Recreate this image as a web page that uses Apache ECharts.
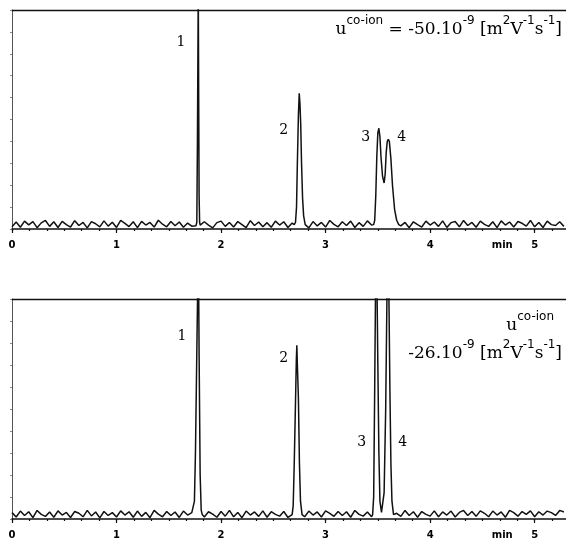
<!DOCTYPE html>
<html>
<head>
<meta charset="utf-8">
<script src="https://cdn.jsdelivr.net/npm/echarts@6/dist/echarts.min.js"></script>
<style>
  html, body { margin: 0; padding: 0; background: #fff; }
  #chart { width: 566px; height: 541px; }
</style>
</head>
<body>
<div id="chart"></div>
<script>
// time axis (min)
const xMax = 5.3;
const tickValues = [0, 1, 2, 3, 4, 4.69, 5];
const tickLabels = ['0', '1', '2', '3', '4', 'min', '5'];

// baseline noise, one value every 0.04 min from 0 to 5.28
const noiseStep = 0.04;
const noiseTop = [
  1.0, 3.2, 0.8, 3.6, 1.9, 3.4, 0.6, 2.8, 3.9, 1.2, 3.3, 0.7, 3.5, 2.0, 0.9, 3.8, 1.6, 3.0, 0.5, 3.4,
  2.4, 1.0, 3.7, 1.3, 3.1, 0.7, 3.9, 2.6, 1.1, 3.3, 0.6, 3.5, 1.8, 3.0, 0.9, 4.0, 2.2, 1.0, 3.4, 1.5,
  3.2, 0.8, 2.7, 1.3, 3.7, 0.7, 3.3, 1.8, 0.5, 2.9, 3.6, 1.2, 3.0, 0.9, 3.4, 2.0, 0.6, 3.8, 1.6, 3.2,
  1.0, 2.9, 0.8, 3.6, 1.8, 3.3, 0.7, 2.7, 3.7, 1.2, 3.2, 0.5, 3.4, 1.4, 3.0, 0.9, 3.9, 2.1, 1.0, 3.3,
  1.6, 3.6, 0.7, 2.9, 1.2, 3.7, 1.8, 3.2, 0.8, 3.4, 2.5, 1.0, 3.9, 1.4, 3.0, 0.6, 3.3, 2.0, 0.9, 3.6,
  1.8, 3.2, 1.2, 3.7, 0.7, 2.9, 3.4, 1.0, 3.9, 1.6, 3.0, 0.8, 3.6, 2.1, 1.2, 3.3, 0.6, 3.7, 1.8, 3.2,
  0.9, 3.4, 2.6, 1.3, 3.9, 1.0, 3.0, 0.7, 3.6, 2.0, 1.6, 3.3, 1.2
];
const noiseBottom = [
  2.9, 0.9, 3.6, 1.6, 3.3, 0.6, 3.9, 2.1, 1.2, 3.2, 0.8, 3.7, 1.8, 3.0, 0.7, 3.4, 2.6, 1.0, 3.9, 1.4,
  3.2, 0.5, 3.4, 1.6, 2.9, 0.9, 3.7, 1.8, 3.3, 0.8, 3.6, 1.2, 3.0, 0.6, 3.9, 2.2, 1.0, 3.4, 1.6, 3.2,
  0.7, 3.6, 1.8, 2.9, 1.2, 3.7, 0.9, 3.3, 2.2, 0.8, 3.4, 1.3, 3.9, 1.0, 3.0, 0.6, 3.6, 1.8, 3.2, 1.2,
  3.7, 0.8, 3.3, 2.1, 1.3, 3.4, 0.7, 3.9, 1.6, 3.0, 1.0, 3.6, 1.8, 3.2, 0.9, 3.7, 2.6, 1.2, 3.4, 1.6,
  3.3, 0.8, 3.9, 2.1, 1.3, 3.2, 1.0, 3.7, 1.8, 2.9, 0.9, 3.6, 2.6, 1.2, 3.9, 1.6, 3.3, 0.8, 3.4, 2.1,
  1.3, 3.7, 1.0, 3.2, 1.8, 3.6, 0.9, 3.0, 3.9, 1.6, 3.4, 1.2, 3.7, 2.6, 1.0, 3.6, 1.8, 3.2, 0.8, 3.9,
  2.9, 1.3, 3.4, 2.1, 3.7, 1.0, 3.3, 1.8, 3.6, 2.9, 1.6, 3.9, 3.2
];

// peaks, [min, signal] (signal: 100 = top of the frame)
const peaksTop = [
  [[1.76, 1.5], [1.768, 3], [1.774, 40], [1.778, 75], [1.782, 110], [1.786, 60], [1.79, 15], [1.795, 3], [1.80, 1.8]],
  [[2.70, 2], [2.712, 3], [2.722, 10], [2.73, 30], [2.74, 52], [2.748, 62], [2.755, 57], [2.762, 48],
   [2.77, 30], [2.78, 14], [2.79, 6], [2.805, 2]],
  [[3.46, 2], [3.47, 4], [3.48, 15], [3.49, 33], [3.50, 44], [3.51, 46], [3.52, 42], [3.53, 33],
   [3.545, 24], [3.56, 21], [3.57, 25], [3.58, 35], [3.59, 40], [3.60, 41], [3.61, 40], [3.625, 32],
   [3.64, 20], [3.66, 9], [3.68, 4], [3.70, 2]]
];
const peaksBottom = [
  [[1.735, 2], [1.745, 8], [1.755, 30], [1.765, 65], [1.775, 100], [1.78, 115], [1.785, 110],
   [1.79, 75], [1.80, 20], [1.81, 4], [1.82, 2]],
  [[2.68, 2], [2.69, 6], [2.70, 25], [2.71, 48], [2.72, 72], [2.725, 79], [2.73, 70], [2.74, 55],
   [2.75, 25], [2.76, 8], [2.775, 2]],
  [[3.45, 2], [3.46, 10], [3.47, 60], [3.478, 105], [3.485, 115], [3.492, 105], [3.50, 70], [3.51, 30],
   [3.52, 8], [3.535, 3], [3.55, 3], [3.56, 12], [3.575, 50], [3.588, 105], [3.597, 115], [3.605, 105],
   [3.615, 60], [3.625, 25], [3.635, 8], [3.65, 2]]
];

// peak numbers, [min, signal]
const labelsTop = [['1', 1.616, 85], ['2', 2.60, 45], ['3', 3.384, 42], ['4', 3.728, 42]];
const labelsBottom = [['1', 1.625, 83], ['2', 2.60, 73], ['3', 3.346, 35], ['4', 3.738, 35]];

// merge baseline and peaks into one trace
function buildTrace(noise, peaks) {
  const pts = [];
  noise.forEach((v, i) => {
    const t = +(i * noiseStep).toFixed(3);
    const inPeak = peaks.some(p => t >= p[0][0] && t <= p[p.length - 1][0]);
    if (!inPeak) pts.push([t, v]);
  });
  peaks.forEach(p => p.forEach(d => pts.push(d)));
  pts.sort((a, b) => a[0] - b[0]);
  return pts;
}

const minorTicks = [];
for (let k = 0; k / 6 <= xMax; k++) minorTicks.push(k / 6);

const black = '#111';

function axesFor(gridIndex) {
  return [
    {
      type: 'value', gridIndex, position: 'bottom', min: 0, max: xMax,
      axisLine: { show: true, lineStyle: { color: black, width: 1.6 } },
      axisTick: { show: true, length: 4, customValues: tickValues.filter((v, i) => tickLabels[i] !== 'min'),
        lineStyle: { color: black, width: 1.2 } },
      axisLabel: {
        customValues: tickValues,
        formatter: v => tickLabels[tickValues.indexOf(v)],
        color: '#000', fontSize: 10, fontWeight: 'bold', fontFamily: 'DejaVu Sans', margin: 11
      },
      splitLine: { show: false }
    },
    {
      type: 'value', gridIndex, position: 'bottom', min: 0, max: xMax,
      axisLine: { show: false },
      axisTick: { show: true, length: 2, customValues: minorTicks, lineStyle: { color: black, width: 1.2 } },
      axisLabel: { show: false },
      splitLine: { show: false }
    },
    {
      type: 'value', gridIndex, position: 'top', min: 0, max: xMax,
      axisLine: { show: true, lineStyle: { color: black, width: 1.4 } },
      axisTick: { show: false }, axisLabel: { show: false }, splitLine: { show: false }
    }
  ];
}

function yAxisFor(gridIndex) {
  return {
    type: 'value', gridIndex, min: 0, max: 100, interval: 10,
    axisLine: { show: true, lineStyle: { color: '#555', width: 1 } },
    axisTick: { show: true, length: 2, lineStyle: { color: '#888' } },
    axisLabel: { show: false },
    splitLine: { show: false }
  };
}

function traceSeries(data, xAxisIndex, yAxisIndex, labels) {
  return {
    type: 'line', xAxisIndex, yAxisIndex, data,
    symbol: 'none', clip: true,
    lineStyle: { color: black, width: 1.5 },
    markPoint: {
      symbol: 'circle', symbolSize: 1,
      itemStyle: { color: 'rgba(0,0,0,0)' },
      label: {
        show: true, position: 'inside', formatter: p => p.name,
        color: '#000', fontSize: 14, fontFamily: 'DejaVu Serif'
      },
      data: labels.map(l => ({ name: l[0], coord: [l[1], l[2]] }))
    }
  };
}

const rich = {
  n: { fontSize: 17, fontFamily: 'DejaVu Serif', color: '#000', lineHeight: 23, verticalAlign: 'bottom' },
  s: { fontSize: 12, fontFamily: 'DejaVu Sans', color: '#000', lineHeight: 15, verticalAlign: 'top' }
};

const chart = echarts.init(document.getElementById('chart'));
chart.setOption({
  animation: false,
  backgroundColor: '#fff',
  grid: [
    { left: 12, right: 0, top: 10, height: 219 },
    { left: 12, right: 0, top: 299, height: 220 }
  ],
  xAxis: [...axesFor(0), ...axesFor(1)],
  yAxis: [yAxisFor(0), yAxisFor(1)],
  series: [
    traceSeries(buildTrace(noiseTop, peaksTop), 0, 0, labelsTop),
    traceSeries(buildTrace(noiseBottom, peaksBottom), 3, 1, labelsBottom)
  ],
  graphic: [
    {
      type: 'text', right: 4, top: 15,
      style: {
        text: '{n|u}{s|co-ion}{n| = -50.10}{s|-9}{n| [m}{s|2}{n|V}{s|-1}{n|s}{s|-1}{n|]}',
        rich
      }
    },
    {
      type: 'text', right: 12, top: 311,
      style: { text: '{n|u}{s|co-ion}', rich }
    },
    {
      type: 'text', right: 4, top: 339,
      style: {
        text: '{n|-26.10}{s|-9}{n| [m}{s|2}{n|V}{s|-1}{n|s}{s|-1}{n|]}',
        rich
      }
    }
  ]
});
</script>
</body>
</html>
